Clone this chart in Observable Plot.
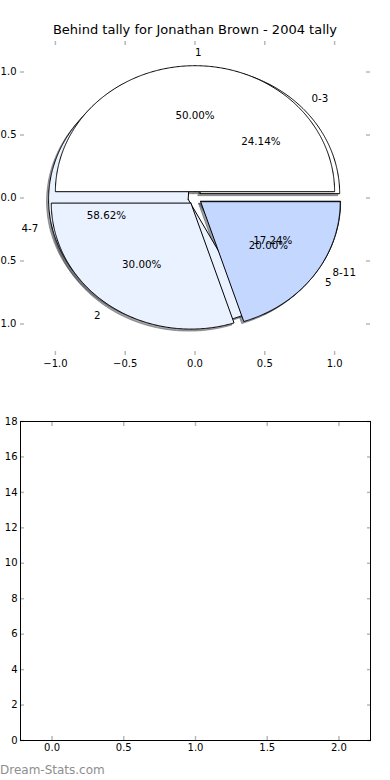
<!DOCTYPE html>
<html><head><meta charset="utf-8">
<script src="https://cdn.jsdelivr.net/npm/d3@7"></script>
<script src="https://cdn.jsdelivr.net/npm/@observablehq/plot@0.6"></script>
<style>
html,body{margin:0;padding:0;background:#fff;}
#fig{position:relative;width:390px;height:780px;overflow:hidden;font-family:"DejaVu Sans",sans-serif;background:#fff;}
#fig svg{position:absolute;left:0;}
.title{position:absolute;left:0;top:22px;width:390px;text-align:center;font-size:13px;line-height:16px;color:#000;white-space:nowrap;}
.wm{position:absolute;left:0;top:762px;font-size:12px;line-height:16px;color:#8e8e8e;white-space:nowrap;}
</style></head><body>
<div id="fig"></div>
<script>
// ---- data ----
const chartTitle = "Behind tally for Jonathan Brown - 2004 tally";
const outerLabels = ["0-3", "4-7", "8-11"];
const outerValues = [24.14, 58.62, 17.24];
const innerLabels = ["1", "2", "5"];
const innerValues = [50, 30, 20];
const pieTicks = [-1, -0.5, 0, 0.5, 1];
const lowerYTicks = [0, 2, 4, 6, 8, 10, 12, 14, 16, 18];
const lowerXTicks = [0, 0.5, 1, 1.5, 2];
const watermark = "Dream-Stats.com";

// ---- style ----
const sliceColors = ["#ffffff", "#eaf1ff", "#c4d8ff"];
const explode = 0.05;
const tickGray = "#b8b8b8";
const font = "DejaVu Sans";

function buildWedges(labels, values) {
  const total = d3.sum(values);
  let acc = 0;
  return values.map((v, i) => {
    const a0 = acc / total * 2 * Math.PI;
    acc += v;
    const a1 = acc / total * 2 * Math.PI;
    const mid = (a0 + a1) / 2;
    const cx = explode * Math.cos(mid), cy = explode * Math.sin(mid);
    const n = Math.max(2, Math.ceil((a1 - a0) / (Math.PI / 360)));
    const pts = [{x: cx, y: cy}];
    for (let k = 0; k <= n; k++) {
      const a = a0 + (a1 - a0) * k / n;
      pts.push({x: cx + Math.cos(a), y: cy + Math.sin(a)});
    }
    pts.push({x: cx, y: cy});
    return {
      label: labels[i], value: v, pct: v / total * 100, color: sliceColors[i],
      pts,
      lx: cx + 1.1 * Math.cos(mid), ly: cy + 1.1 * Math.sin(mid),
      px: cx + 0.6 * Math.cos(mid), py: cy + 0.6 * Math.sin(mid)
    };
  });
}

const outer = buildWedges(outerLabels, outerValues);
const inner = buildWedges(innerLabels, innerValues);
const drawOrder = [outer, inner];

const shadowMarks = [];
const wedgeMarks = [];
for (const pie of drawOrder) {
  for (const w of pie) {
    const c = d3.rgb(w.color);
    const sc = d3.rgb(c.r * 0.3, c.g * 0.3, c.b * 0.3).formatHex();
    shadowMarks.push(Plot.line(w.pts, {x: "x", y: "y", fill: sc, fillOpacity: 0.5, stroke: sc, strokeOpacity: 0.5, strokeWidth: 1, dx: -2, dy: 2}));
    wedgeMarks.push(Plot.line(w.pts, {x: "x", y: "y", fill: w.color, stroke: "#000", strokeWidth: 1, strokeLinejoin: "miter"}));
  }
}
const textMarks = [];
for (const pie of drawOrder) {
  textMarks.push(Plot.text(pie.filter(d => d.lx > 0), {x: "lx", y: "ly", text: "label", textAnchor: "start", fontSize: 10.3, fill: "#000"}));
  textMarks.push(Plot.text(pie.filter(d => d.lx <= 0), {x: "lx", y: "ly", text: "label", textAnchor: "end", fontSize: 10.3, fill: "#000"}));
  textMarks.push(Plot.text(pie, {x: "px", y: "py", text: d => d.pct.toFixed(2) + "%", textAnchor: "middle", fontSize: 10.3, fill: "#000"}));
}

const fmt1 = d3.format(".1f");

function tickAxes(xt, yt) {
  return [
    Plot.axisX(xt, {anchor: "top", tickSize: 4, dy: 4, fill: "none", stroke: tickGray, strokeWidth: 1.5, label: null}),
    Plot.axisX(xt, {anchor: "bottom", tickSize: 4, dy: -4, fill: "none", stroke: tickGray, strokeWidth: 1.5, label: null}),
    Plot.axisY(yt, {anchor: "left", tickSize: 4, dx: 4, fill: "none", stroke: tickGray, strokeWidth: 1.5, label: null}),
    Plot.axisY(yt, {anchor: "right", tickSize: 4, dx: -4, fill: "none", stroke: tickGray, strokeWidth: 1.5, label: null})
  ];
}

const pieChart = Plot.plot({
  width: 390, height: 400,
  marginTop: 40, marginBottom: 45, marginLeft: 20, marginRight: 21,
  style: {fontFamily: font, fontSize: "10px", background: "transparent", color: "#000"},
  x: {domain: [-1.25, 1.25]},
  y: {domain: [-1.25, 1.25]},
  marks: [
    ...shadowMarks,
    ...wedgeMarks,
    ...textMarks,
    ...tickAxes(pieTicks, pieTicks),
    Plot.axisX(pieTicks, {anchor: "bottom", tickSize: 0, tickPadding: 4, tickFormat: fmt1, fontSize: 10, label: null}),
    Plot.axisY(pieTicks, {anchor: "left", tickSize: 0, tickPadding: 4, tickFormat: fmt1, fontSize: 10, label: null})
  ]
});
pieChart.style.top = "0px";

const lowerChart = Plot.plot({
  width: 390, height: 380,
  marginTop: 21, marginBottom: 40, marginLeft: 20, marginRight: 20,
  style: {fontFamily: font, fontSize: "10px", background: "transparent", color: "#000"},
  x: {domain: [-0.22, 2.22]},
  y: {domain: [0, 18]},
  marks: [
    ...tickAxes(lowerXTicks, lowerYTicks),
    Plot.frame({stroke: "#000", strokeWidth: 1}),
    Plot.axisX(lowerXTicks, {anchor: "bottom", tickSize: 0, tickPadding: 3, tickFormat: fmt1, fontSize: 10, label: null}),
    Plot.axisY(lowerYTicks, {anchor: "left", tickSize: 0, tickPadding: 3, tickFormat: d3.format("d"), fontSize: 10, label: null})
  ]
});
lowerChart.style.top = "400px";

const fig = document.getElementById("fig");
const t = document.createElement("div");
t.className = "title";
t.textContent = chartTitle;
fig.appendChild(pieChart);
fig.appendChild(lowerChart);
fig.appendChild(t);
const wm = document.createElement("div");
wm.className = "wm";
wm.textContent = watermark;
fig.appendChild(wm);
</script>
</body></html>
